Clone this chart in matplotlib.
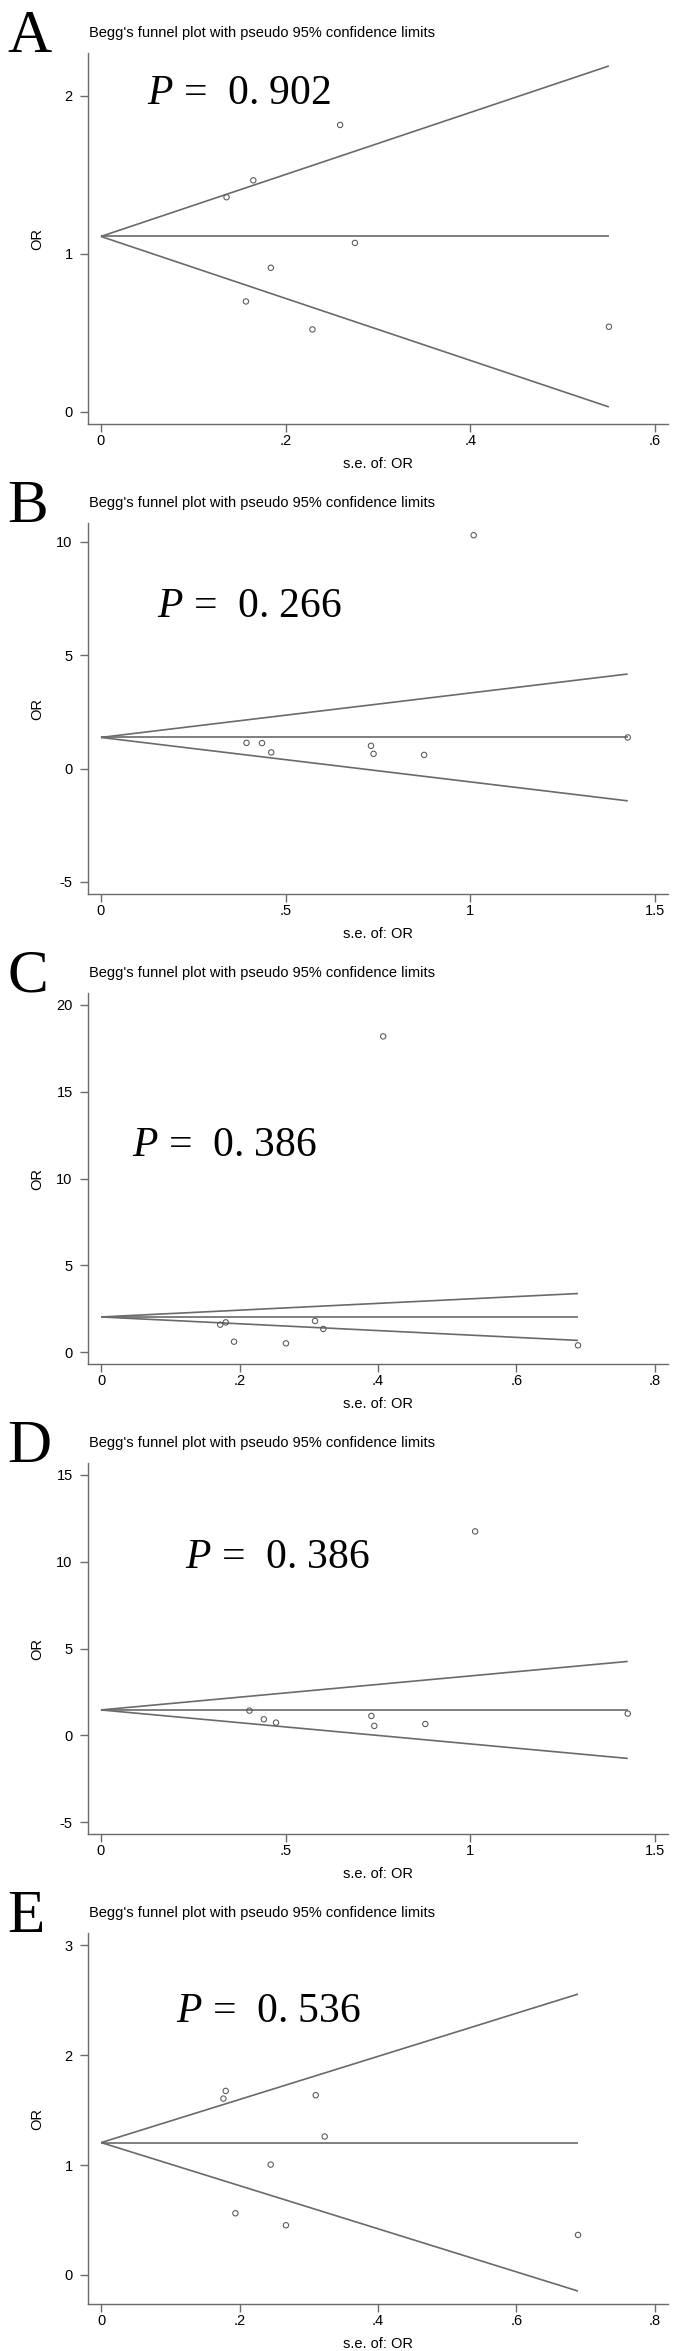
import matplotlib
matplotlib.use("Agg")
import matplotlib.pyplot as plt
import numpy as np

plt.rcParams['font.family'] = ['Liberation Sans', 'DejaVu Sans']
plt.rcParams['mathtext.fontset'] = 'custom'
plt.rcParams['mathtext.it'] = 'Liberation Serif:italic'
plt.rcParams['mathtext.rm'] = 'Liberation Serif'

# ---------------- data ----------------
panel_letters = ["A", "B", "C", "D", "E"]
p_values = ["0. 902", "0. 266", "0. 386", "0. 386", "0. 536"]

se_A = [0.259, 0.165, 0.136, 0.275, 0.184, 0.157, 0.229, 0.550]
or_A = [1.815, 1.465, 1.358, 1.069, 0.912, 0.699, 0.522, 0.539]
theta_A = 1.11

se_B = [1.009, 1.426, 0.394, 0.436, 0.461, 0.731, 0.738, 0.875]
or_B = [10.28, 1.37, 1.13, 1.12, 0.71, 1.00, 0.647, 0.60]
theta_B = 1.37

se_C = [0.4075, 0.172, 0.180, 0.192, 0.267, 0.309, 0.321, 0.689]
or_C = [18.19, 1.577, 1.71, 0.596, 0.50, 1.79, 1.33, 0.385]
theta_C = 2.02

se_D = [1.013, 1.426, 0.402, 0.441, 0.474, 0.732, 0.740, 0.878]
or_D = [11.75, 1.25, 1.42, 0.92, 0.73, 1.115, 0.54, 0.65]
theta_D = 1.46

se_E = [0.1766, 0.180, 0.310, 0.323, 0.245, 0.194, 0.267, 0.689]
or_E = [1.604, 1.674, 1.635, 1.259, 1.004, 0.561, 0.452, 0.364]
theta_E = 1.204

yticks_A = [0, 1, 2]
yticks_B = [-5, 0, 5, 10]
yticks_C = [0, 5, 10, 15, 20]
yticks_D = [-5, 0, 5, 10, 15]
yticks_E = [0, 1, 2, 3]

xticks_A = [0, 0.2, 0.4, 0.6]
xticks_B = [0, 0.5, 1.0, 1.5]
xticks_C = [0, 0.2, 0.4, 0.6, 0.8]
xticks_D = [0, 0.5, 1.0, 1.5]
xticks_E = [0, 0.2, 0.4, 0.6, 0.8]

xticklabels_A = ["0", ".2", ".4", ".6"]
xticklabels_B = ["0", ".5", "1", "1.5"]
xticklabels_C = ["0", ".2", ".4", ".6", ".8"]
xticklabels_D = ["0", ".5", "1", "1.5"]
xticklabels_E = ["0", ".2", ".4", ".6", ".8"]

# ---------------- layout ----------------
W, H = 675, 2351
panels = [
    dict(se=se_A, orv=or_A, theta=theta_A, yt=yticks_A, xt=xticks_A, xtl=xticklabels_A,
         ylim=(-0.076, 2.27), xlim=(-0.014, 0.614), ptxt=(147, 104)),
    dict(se=se_B, orv=or_B, theta=theta_B, yt=yticks_B, xt=xticks_B, xtl=xticklabels_B,
         ylim=(-5.53, 10.82), xlim=(-0.035, 1.535), ptxt=(157, 147)),
    dict(se=se_C, orv=or_C, theta=theta_C, yt=yticks_C, xt=xticks_C, xtl=xticklabels_C,
         ylim=(-0.69, 20.69), xlim=(-0.019, 0.819), ptxt=(132, 216)),
    dict(se=se_D, orv=or_D, theta=theta_D, yt=yticks_D, xt=xticks_D, xtl=xticklabels_D,
         ylim=(-5.69, 15.69), xlim=(-0.035, 1.535), ptxt=(185, 158)),
    dict(se=se_E, orv=or_E, theta=theta_E, yt=yticks_E, xt=xticks_E, xtl=xticklabels_E,
         ylim=(-0.264, 3.11), xlim=(-0.019, 0.819), ptxt=(176, 142)),
]

fig = plt.figure(figsize=(W / 100, H / 100), dpi=100)
fig.patch.set_facecolor("white")

gray = "#6a6a6a"
for k, p in enumerate(panels):
    off = 470 * k
    left, right = 88, 668
    top, bottom = off + 53, off + 424
    ax = fig.add_axes([left / W, 1 - bottom / H, (right - left) / W, (bottom - top) / H])
    se = np.array(p["se"])
    orv = np.array(p["orv"])
    th = p["theta"]
    smax = se.max()
    xs = np.array([0, smax])
    ax.plot(xs, th + 1.96 * xs, color=gray, lw=1.2, solid_capstyle="butt")
    ax.plot(xs, th - 1.96 * xs, color=gray, lw=1.2, solid_capstyle="butt")
    ax.plot(xs, [th, th], color=gray, lw=1.2, solid_capstyle="butt")
    ax.scatter(se, orv, s=15, facecolors="none", edgecolors="#555555", linewidths=0.75, zorder=3)
    ax.set_xlim(*p["xlim"])
    ax.set_ylim(*p["ylim"])
    ax.set_yticks(p["yt"])
    ax.set_yticklabels([str(v) for v in p["yt"]])
    ax.set_xticks(p["xt"])
    ax.set_xticklabels(p["xtl"])
    for s in ["top", "right"]:
        ax.spines[s].set_visible(False)
    for s in ["left", "bottom"]:
        ax.spines[s].set_color(gray)
        ax.spines[s].set_linewidth(1.0)
    ax.tick_params(axis="both", direction="out", length=6, width=1.0, color=gray,
                   labelsize=10.5, labelcolor="black")
    ax.tick_params(axis="y", pad=5)
    ax.tick_params(axis="x", pad=1.5)
    ax.set_xlabel("s.e. of: OR", fontsize=10.5, va="center")
    ax.set_ylabel("OR", fontsize=10.5)
    ax.yaxis.set_label_coords((44 - left) / (right - left), 0.5)
    ax.xaxis.set_label_coords(0.5, -(464 - 424) / (bottom - top))
    # title
    fig.text(89 / W, 1 - (off + 33) / H, "Begg's funnel plot with pseudo 95% confidence limits",
             fontsize=10.5, ha="left", va="center")
    # panel letter
    fig.text(7 / W, 1 - (off + 52) / H, panel_letters[k], fontsize=44,
             family="Liberation Serif", ha="left", va="baseline")
    # P value
    px, py = p["ptxt"]
    fig.text(px / W, 1 - (off + py) / H, r"$P$ =  " + p_values[k], fontsize=30,
             family="Liberation Serif", ha="left", va="baseline")

fig.savefig("out.png", dpi=100, facecolor="white")
